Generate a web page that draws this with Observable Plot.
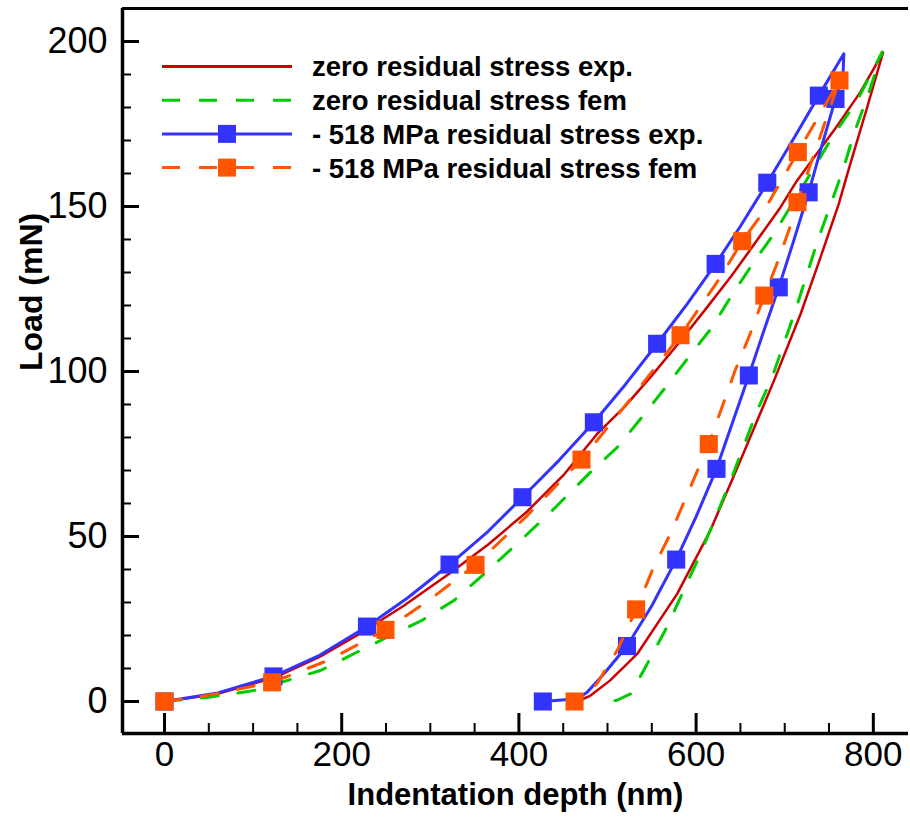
<!DOCTYPE html>
<html><head><meta charset="utf-8">
<script src="https://cdn.jsdelivr.net/npm/d3@7"></script>
<script src="https://cdn.jsdelivr.net/npm/@observablehq/plot@0.6"></script>
<style>
body{margin:0;background:#fff;}
#wrap{position:relative;width:910px;height:821px;overflow:hidden;}
#legend{position:absolute;left:0;top:0;pointer-events:none;}
</style></head><body><div id="wrap"></div>
<script>
// ---- axes ----
const xDomain = [-47.4, 839.7];
const yDomain = [-9.7, 210];
const xTicks = [0, 200, 400, 600, 800];
const yTicks = [0, 50, 100, 150, 200];
const xMinorTicks = [50,100,150,250,300,350,450,500,550,650,700,750];
const yMinorTicks = [10,20,30,40,60,70,80,90,110,120,130,140,160,170,180,190];
const xLabel = "Indentation depth (nm)";
const yLabel = "Load (mN)";

// ---- series names / colours ----
const seriesNames = ["zero residual stress exp.", "zero residual stress fem", "- 518 MPa residual stress exp.", "- 518 MPa residual stress fem"];
const seriesColors = ["#cc0000", "#00cc00", "#3333ff", "#ff5500"];

// ---- zero residual stress exp. (red, solid) ----
const zeroExp = [
  [0,0],[60,2.3],[125,7.3],[175,13.5],[221,20.6],[270,29],[321.7,38.8],[365,47.5],[409,57.5],[450,68.5],
  [488,81],[520,89.5],[548.5,98.3],[580,108.5],[612.5,119.5],[640,129],[663.3,137.7],[695.3,149.8],[714,157.9],
  [755.4,173],[785,184.5],[811,196.7],
  [793,180],[774,162.9],[761,150.8],[740.4,134.6],[718,117.5],[688,97.3],[650,73],[616,51.8],
  [578.6,32.6],[533.5,14.4],[503,6.4],[480.8,1.8],[466,0]
];
// ---- zero residual stress fem (green, dashed) ----
const zeroFem = [
  [0,0],[50,1.3],[100.7,3.3],[176,9.4],[251.3,19.5],[290,24.5],[326.6,30.6],[356.7,37.7],[398,47.8],[440,58.5],
  [480.8,69.5],[511,77],[539,86.2],[565.5,95.2],[590,103.8],[618,113.4],[638.8,122.5],[665,133.1],[687.7,141.7],
  [729,159.9],[753.6,171],[781.6,182],[810,196.8],
  [793,183],[778,172],[766.7,161.9],[753.5,151.8],[736.6,139.2],[725.3,129.6],[712,118.5],[699,108.4],
  [685.8,98.3],[669,88.2],[639,67],[605,44.8],[567,22.5],[540,9],[526,2.3],[510,0.3],[497,0]
];
// ---- -518 MPa residual stress exp. (blue, solid + squares) ----
const negExp = [
  [0,0],[60,2.6],[123,7.6],[175,14],[228.5,22.7],[275,31.5],[321.7,41.5],[365,51.5],[404,61.9],[445,73],
  [484.6,84.6],[520,96],[556,108.4],[590,120.5],[622,132.6],[650,144],[680.3,157.2],[710,170.5],[738.5,183.6],
  [766.7,196.3],[766,191.2],[757.3,182.6],[742,168.5],[727,154.3],[710,139.5],[693.3,125.5],[676,112],
  [659.5,98.8],[641,84.5],[623,70.5],[600,56],[577.5,43],[550,29],[522,16.8],[496,8.4],[477,2.8],[466,0.8],[427,0]
];
const negExpMarkers = [
  [0,0],[123,7.6],[228.5,22.7],[321.7,41.5],[404,61.9],[484.6,84.6],[556,108.4],[622,132.6],[680.3,157.2],
  [738.5,183.6],[757.3,182.6],[727,154.3],[693.3,125.5],[659.5,98.8],[623,70.5],[577.5,43],[522,16.8],[427,0]
];
// ---- -518 MPa residual stress fem (orange, dashed + squares) ----
const negFem = [
  [0,0],[48,1.8],[121.5,5.8],[185,12.5],[249.4,21.7],[300,31],[351,41.4],[410,56.5],[470.6,73.3],[527,92],
  [582.4,111],[627.5,128.6],[652,139.5],[674.6,147.8],[714.8,166.5],[761.8,188.2],
  [714.4,151.3],[704.6,142.7],[689.7,131.6],[677,123],[659.5,110.4],[644,100.3],[614.3,78],[571,50.8],[552,40.7],
  [532.3,27.9],[511,15.5],[488,5.4],[475,1.5],[462.8,0]
];
const negFemMarkers = [
  [0,0],[121.5,5.8],[249.4,21.7],[351,41.4],[470.6,73.3],[582.4,111],[652,139.5],[714.8,166.5],[761.8,188.2],
  [714.4,151.3],[677,123],[614.3,78],[532.3,27.9],[462.8,0]
];

const FONT = "'Liberation Sans', Arial, Helvetica, sans-serif";
const dashPlot = "17,20";
const markR = 10.2;

const chart = Plot.plot({
  width: 910, height: 821,
  marginLeft: 122, marginRight: 2, marginTop: 8, marginBottom: 88,
  style: {fontFamily: FONT, color: "black", background: "white", overflow: "visible"},
  x: {domain: xDomain},
  y: {domain: yDomain},
  marks: [
    // frame lines
    Plot.ruleX([xDomain[0]], {stroke: "black", strokeWidth: 3.5}),
    Plot.ruleY([yDomain[0]], {stroke: "black", strokeWidth: 3.5}),
    Plot.ruleY([yDomain[1]], {stroke: "black", strokeWidth: 3}),
    // inward ticks
    Plot.axisX(xTicks, {anchor: "bottom", tickSize: -20, strokeWidth: 3, text: null, label: null}),
    Plot.axisX(xMinorTicks, {anchor: "bottom", tickSize: -10, strokeWidth: 2, text: null, label: null}),
    Plot.axisY(yTicks, {anchor: "left", tickSize: -17, strokeWidth: 3, text: null, label: null}),
    Plot.axisY(yMinorTicks, {anchor: "left", tickSize: -9, strokeWidth: 2, text: null, label: null}),
    // tick labels
    Plot.axisX(xTicks, {anchor: "bottom", tickSize: 0, tickPadding: 8, fontSize: 35, label: null, tickFormat: d => String(d)}),
    Plot.axisY(yTicks, {anchor: "left", tickSize: 0, tickPadding: 15, fontSize: 36, label: null, tickFormat: d => String(d)}),
    // axis titles
    Plot.text([xLabel], {frameAnchor: "bottom", dy: 71, fontSize: 31, fontWeight: "bold", fill: "black", text: d => d}),
    Plot.text([yLabel], {frameAnchor: "left", dx: -91, rotate: -90, fontSize: 32, fontWeight: "bold", fill: "black", text: d => d}),
    // series
    Plot.line(zeroExp, {x: d => d[0], y: d => d[1], stroke: seriesColors[0], strokeWidth: 2.5}),
    Plot.line(zeroFem, {x: d => d[0], y: d => d[1], stroke: seriesColors[1], strokeWidth: 3, strokeDasharray: dashPlot}),
    Plot.line(negExp, {x: d => d[0], y: d => d[1], stroke: seriesColors[2], strokeWidth: 3}),
    Plot.dot(negExpMarkers, {x: d => d[0], y: d => d[1], symbol: "square", r: markR, fill: seriesColors[2], stroke: "none"}),
    Plot.line(negFem, {x: d => d[0], y: d => d[1], stroke: seriesColors[3], strokeWidth: 3, strokeDasharray: dashPlot}),
    Plot.dot(negFemMarkers, {x: d => d[0], y: d => d[1], symbol: "square", r: markR, fill: seriesColors[3], stroke: "none"})
  ]
});
const wrap = document.getElementById("wrap");
wrap.appendChild(chart);

// ---- legend overlay ----
const legendStyle = [
  {dash: null, marker: false},
  {dash: "18,19", marker: false},
  {dash: null, marker: true},
  {dash: "18,19", marker: true}
];
const lg = d3.select(wrap).append("svg").attr("id", "legend").attr("width", 910).attr("height", 821);
const rowY0 = 66.5, rowStep = 33.7, lineX1 = 162, lineX2 = 292, textX = 312;
seriesNames.forEach((name, i) => {
  const y = rowY0 + i * rowStep;
  const g = lg.append("g");
  g.append("line").attr("x1", lineX1).attr("x2", lineX2).attr("y1", y).attr("y2", y)
    .attr("stroke", seriesColors[i]).attr("stroke-width", 3)
    .attr("stroke-dasharray", legendStyle[i].dash);
  if (legendStyle[i].marker) {
    g.append("rect").attr("x", 227 - 9).attr("y", y - 9).attr("width", 18).attr("height", 18).attr("fill", seriesColors[i]);
  }
  g.append("text").attr("x", textX).attr("y", y).attr("dy", "0.36em")
    .attr("font-family", FONT).attr("font-weight", "bold").attr("font-size", 27.5).attr("fill", "black")
    .text(name);
});
</script></body></html>
